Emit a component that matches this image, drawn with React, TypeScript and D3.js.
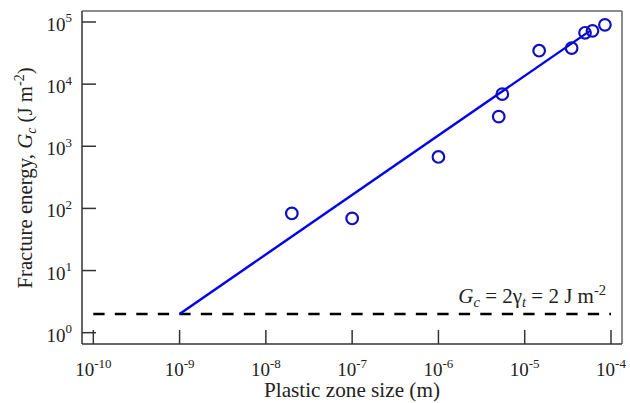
import React from "react";
import * as d3 from "d3";

// Data
const plasticZone = [2.0e-8, 1.0e-7, 1.0e-6, 5.0e-6, 5.5e-6, 1.47e-5, 3.5e-5, 5.0e-5, 6.1e-5, 8.5e-5];
const fractureEnergy = [83, 69, 673, 3.0e3, 6.9e3, 3.45e4, 3.8e4, 6.7e4, 7.2e4, 9.0e4];
const fitX = [1e-9, 5.7e-5];
const fitY = [2, 7.2e4];
const surfaceLevel = 2;
const surfaceRange = [1e-10, 1e-4];
const xTickExps = [-10, -9, -8, -7, -6, -5, -4];
const yTickExps = [0, 1, 2, 3, 4, 5];

const W = 630;
const H = 403;
const L = 82, R = 622, T = 11, B = 344;
const FONT = "'Liberation Serif', 'Times New Roman', serif";

export default function App() {
  const x = d3.scaleLog().domain([Math.pow(10, -10.131), Math.pow(10, -3.8725)]).range([L, R]);
  const y = d3.scaleLog().domain([Math.pow(10, -0.182), Math.pow(10, 5.177)]).range([B, T]);
  const fitLine = d3.line<number>().x((_, i) => x(fitX[i])).y((d) => y(d));
  const tickLen = 14;
  const axisColor = "#333";
  return (
    <svg width={W} height={H} style={{ position: "absolute", left: 0, top: 0, background: "#fff" }} fontFamily={FONT}>
      {/* frame */}
      <line x1={L} y1={T} x2={R} y2={T} stroke="#666" strokeWidth={1.5} />
      <line x1={R} y1={T} x2={R} y2={B} stroke="#666" strokeWidth={1.5} />
      <line x1={L} y1={T} x2={L} y2={B} stroke={axisColor} strokeWidth={1.5} />
      <line x1={L} y1={B} x2={R} y2={B} stroke={axisColor} strokeWidth={1.5} />
      {/* x ticks */}
      {xTickExps.map((e) => {
        const px = x(Math.pow(10, e));
        return (
          <g key={"x" + e}>
            <line x1={px} y1={B} x2={px} y2={B - tickLen} stroke={axisColor} strokeWidth={1.5} />
            <text x={px} y={376} textAnchor="middle" fontSize={19} fill="#222">
              10<tspan dy={-8.5} fontSize={13}>{String(e)}</tspan>
            </text>
          </g>
        );
      })}
      {/* y ticks */}
      {yTickExps.map((e) => {
        const py = y(Math.pow(10, e));
        return (
          <g key={"y" + e}>
            <line x1={L} y1={py} x2={L + tickLen} y2={py} stroke={axisColor} strokeWidth={1.5} />
            <text x={72} y={py + 9} textAnchor="end" fontSize={19} fill="#222">
              10<tspan dy={-8.5} fontSize={13}>{String(e)}</tspan>
            </text>
          </g>
        );
      })}
      {/* dashed surface energy level */}
      <line
        x1={x(surfaceRange[0])}
        x2={x(surfaceRange[1])}
        y1={y(surfaceLevel)}
        y2={y(surfaceLevel)}
        stroke="#000"
        strokeWidth={2.5}
        strokeDasharray="11.3,10.2"
      />
      {/* fit line */}
      <path d={fitLine(fitY) || ""} fill="none" stroke="#0000ee" strokeWidth={2.4} />
      {/* data points */}
      {plasticZone.map((v, i) => (
        <circle key={i} cx={x(v)} cy={y(fractureEnergy[i])} r={5.8} fill="none" stroke="#1010c0" strokeWidth={2.2} />
      ))}
      {/* annotation */}
      <text x={606} y={302.5} textAnchor="end" fontSize={21} fill="#222">
        <tspan fontStyle="italic">G</tspan>
        <tspan fontSize={14.5} dy={4} fontStyle="italic">c</tspan>
        <tspan dy={-4}> = 2γ</tspan>
        <tspan fontSize={14.5} dy={4} fontStyle="italic">t</tspan>
        <tspan dy={-4}> = 2 J m</tspan>
        <tspan fontSize={14.5} dy={-8}>-2</tspan>
      </text>
      {/* x label */}
      <text x={(L + R) / 2} y={396.5} textAnchor="middle" fontSize={21.2} fill="#222">
        Plastic zone size (m)
      </text>
      {/* y label */}
      <text transform={`translate(32,178) rotate(-90)`} textAnchor="middle" fontSize={20.8} fill="#222">
        Fracture energy, <tspan fontStyle="italic">G</tspan>
        <tspan fontSize={14} dy={4} fontStyle="italic">c</tspan>
        <tspan dy={-4}> (J m</tspan>
        <tspan fontSize={14} dy={-8}>-2</tspan>
        <tspan dy={8}>)</tspan>
      </text>
    </svg>
  );
}
